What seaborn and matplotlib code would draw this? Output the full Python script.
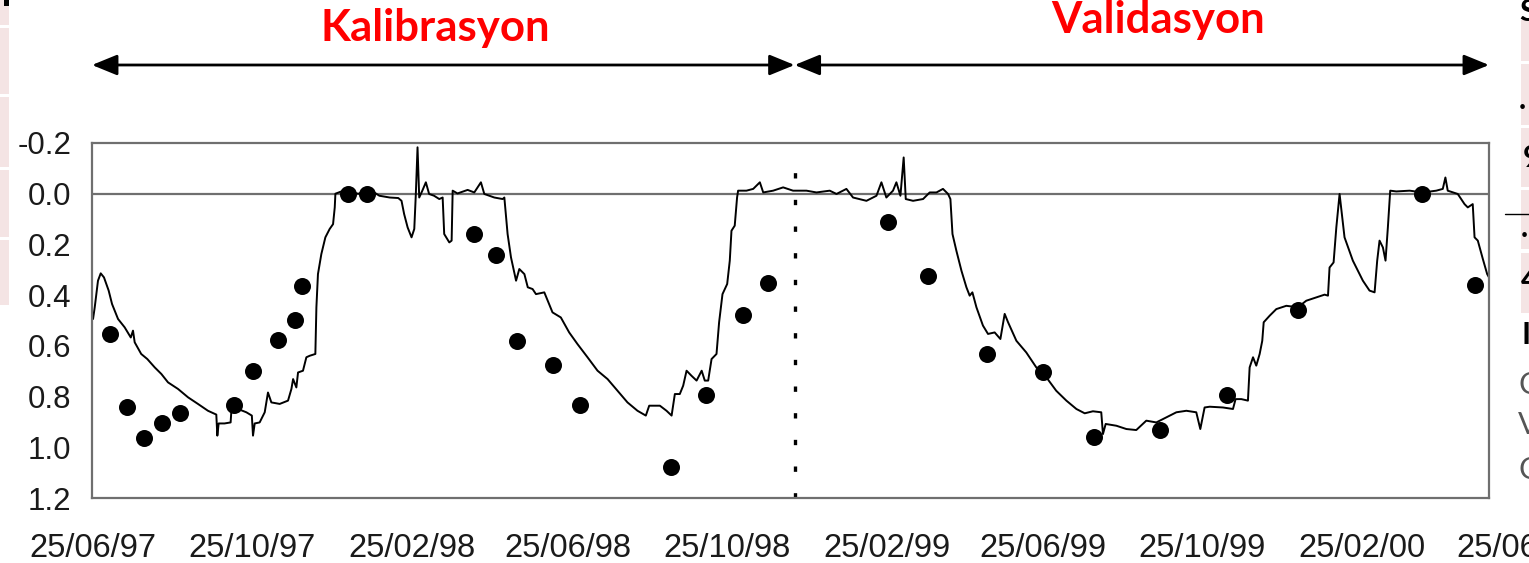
import numpy as np
import pandas as pd
import matplotlib
matplotlib.use("Agg")
import matplotlib.pyplot as plt
import matplotlib.dates as mdates
import matplotlib.transforms as mtransforms
from matplotlib.patches import Rectangle
from matplotlib.lines import Line2D
import seaborn as sns

# ---------------- data ----------------
start_date = "1997-06-25"
# simulated water-table depth (m), days after start_date
sim_day = [0, 1.3, 3.8, 5.9, 8.4, 12, 14.6, 19.2, 24.3, 29, 30.7, 32, 37, 41.7, 47.4, 52.5,
           57.6, 65.3, 73, 80.6, 88.3, 94.7, 95.5, 96.5, 101, 105.7, 106.2, 111.4, 117.8, 122,
           122.9, 124.2, 128, 131.9, 134.4, 137, 143.4, 149.8, 152.4, 153.7, 156.2, 157.5, 161.3,
           163.9, 166.5, 170.8, 171.6, 172.8, 175.4, 178.5, 181.8, 184.4, 185.7, 186.2, 190.8,
           196, 204, 211, 216, 220, 228, 234.5, 237, 239, 241.7, 244.7, 246.8, 248, 249.3, 250.6,
           253, 255.7, 258.2, 262, 266, 268.6, 269.8, 273.7, 275.5, 276.3, 280, 287.8, 292.9,
           298, 300.6, 308.3, 314.7, 316, 318.5, 321.1, 325, 327.5, 331.4, 334, 337.7, 340.3,
           346.7, 353, 359.4, 365.8, 372.2, 379.9, 387.6, 395.3, 403, 410.6, 418.3, 424.7,
           427.3, 435.5, 440.6, 444.5, 447, 450.8, 453.4, 456, 459.8, 463.7, 467.6, 470, 472.6,
           475.2, 479, 481, 483.6, 487.2, 489.2, 490.5, 493, 494.8, 495.6, 502, 507.2, 512.3,
           514.9, 522.5, 530.2, 537.8, 548.1, 555.8, 566, 571.2, 578.8, 583.9, 594.2, 601.9,
           605.7, 609.5, 614.6, 617.2, 620.3, 622.8, 624.4, 630, 637.7, 642.8, 648, 653, 656.9,
           658.7, 660.3, 663.3, 667.2, 671, 673.5, 675.6, 678.7, 683.7, 687.6, 692.7, 697.1,
           700.4, 703, 709.4, 717, 724.7, 732.4, 740, 747.8, 755.5, 761.9, 768.2, 774.6, 775.9,
           778, 786.2, 793.9, 801.5, 809.2, 816.9, 824.6, 832.3, 840, 847.6, 850.7, 854, 857.9,
           868.1, 875.8, 877.8, 882.2, 887.3, 888.6, 891.2, 893.7, 896.3, 898.3, 899.4, 904,
           909.1, 916.8, 925.7, 932.1, 939.8, 946.2, 948.8, 950, 953.1, 955.2, 957.7, 961.5,
           967.9, 975.6, 980.7, 984.6, 986.6, 988.4, 991, 993, 994.8, 996.6, 1001.3, 1011.5,
           1021.7, 1032, 1037, 1039, 1040.8, 1048.5, 1053.7, 1056.2, 1060, 1061.4, 1063.9,
           1067.8, 1071.1, 1072.5]
sim_depth = [0.494, 0.448, 0.343, 0.314, 0.33, 0.382, 0.435, 0.494, 0.527, 0.567, 0.54, 0.586,
             0.632, 0.652, 0.685, 0.711, 0.744, 0.77, 0.803, 0.829, 0.856, 0.871, 0.954, 0.906,
             0.906, 0.902, 0.862, 0.849, 0.862, 0.875, 0.954, 0.906, 0.902, 0.862, 0.784, 0.823,
             0.829, 0.816, 0.77, 0.731, 0.764, 0.705, 0.698, 0.645, 0.639, 0.632, 0.448, 0.317,
             0.238, 0.172, 0.139, 0.12, 0.054, 0.0, -0.009, -0.005, 0.0, -0.012, -0.005, 0.008,
             0.015, 0.017, 0.028, 0.08, 0.133, 0.172, 0.139, 0.001, -0.183, 0.015, -0.012, -0.045,
             0.001, 0.008, 0.021, 0.015, 0.159, 0.192, 0.185, -0.012, -0.001, -0.015, -0.005,
             -0.045, 0.001, 0.015, 0.021, 0.015, 0.159, 0.251, 0.343, 0.297, 0.317, 0.369, 0.376,
             0.396, 0.389, 0.468, 0.488, 0.547, 0.593, 0.645, 0.698, 0.731, 0.777, 0.823, 0.856,
             0.875, 0.836, 0.836, 0.856, 0.875, 0.79, 0.79, 0.757, 0.698, 0.718, 0.737, 0.698,
             0.737, 0.737, 0.652, 0.632, 0.507, 0.396, 0.356, 0.264, 0.146, 0.126, 0.015, -0.012,
             -0.012, -0.019, -0.045, -0.005, -0.012, -0.025, -0.012, -0.012, -0.005, -0.012,
             0.001, -0.019, 0.015, 0.028, 0.008, -0.045, 0.015, -0.012, -0.045, 0.008, -0.143,
             0.021, 0.028, 0.021, -0.005, -0.005, -0.019, 0.001, 0.021, 0.159, 0.225, 0.304,
             0.369, 0.402, 0.389, 0.448, 0.52, 0.553, 0.547, 0.573, 0.474, 0.507, 0.58, 0.626,
             0.685, 0.724, 0.777, 0.816, 0.849, 0.866, 0.858, 0.862, 0.948, 0.908, 0.915, 0.928,
             0.932, 0.895, 0.902, 0.882, 0.862, 0.856, 0.862, 0.928, 0.843, 0.84, 0.843, 0.849,
             0.81, 0.81, 0.816, 0.685, 0.645, 0.678, 0.632, 0.58, 0.507, 0.481, 0.455, 0.442,
             0.448, 0.422, 0.409, 0.398, 0.402, 0.291, 0.271, 0.133, 0.001, 0.172, 0.264, 0.343,
             0.382, 0.389, 0.264, 0.185, 0.212, 0.264, 0.133, -0.012, -0.009, -0.012, -0.005,
             -0.012, -0.019, -0.064, -0.012, 0.001, 0.041, 0.054, 0.041, 0.172, 0.185, 0.258,
             0.317, 0.33]

# observed water-table depth (m)
obs_day = [13.1, 25.9, 39.2, 53.2, 67.0, 108.3, 122.6, 141.9, 154.9, 160.3, 196.1, 210.7,
           292.6, 309.3, 325.9, 353.1, 374.2, 443.9, 470.8, 499.2, 518.6, 610.8, 641.8, 687.1,
           729.8, 768.8, 819.5, 871.5, 926.0, 1021.2, 1062.1]
obs_depth = [0.552, 0.843, 0.963, 0.904, 0.865, 0.833, 0.698, 0.576, 0.497, 0.365, 0.0, 0.0,
             0.159, 0.24, 0.582, 0.674, 0.833, 1.076, 0.792, 0.48, 0.352, 0.11, 0.326, 0.632,
             0.705, 0.958, 0.932, 0.793, 0.459, 0.0, 0.359]

# calibration / validation split and axis extent (days after start_date)
split_day = 539
axis_start_day = -0.8
axis_end_day = 1072.5

x_tick_labels = ["25/06/97", "25/10/97", "25/02/98", "25/06/98", "25/10/98",
                 "25/02/99", "25/06/99", "25/10/99", "25/02/00", "25/06/00"]
y_ticks = [-0.2, 0.0, 0.2, 0.4, 0.6, 0.8, 1.0, 1.2]
period_labels = ["Kalibrasyon", "Validasyon"]

# ---------------- build frames ----------------
t0 = pd.Timestamp(start_date)
to_date = lambda d: t0 + pd.to_timedelta(np.asarray(d, dtype=float), unit="D")
sim = pd.DataFrame({"date": to_date(sim_day), "depth": sim_depth})
obs = pd.DataFrame({"date": to_date(obs_day), "depth": obs_depth})
tick_dates = [pd.to_datetime(s, format="%d/%m/%y") for s in x_tick_labels]
split_date = to_date([split_day])[0]
x_lo = to_date([axis_start_day])[0]
x_hi = to_date([axis_end_day])[0]

# ---------------- style ----------------
sns.set_style("white")
plt.rcParams["font.family"] = ["Liberation Sans", "DejaVu Sans"]
plt.rcParams["axes.unicode_minus"] = False

W, H = 1529, 563
fig = plt.figure(figsize=(W / 100, H / 100), dpi=100)
fig.patch.set_facecolor("white")
ax = fig.add_axes([92 / W, 1 - 498 / H, (1489 - 92) / W, (498 - 143) / H])

spine_col = "#6f6f6f"
ax.axhline(0, color=spine_col, lw=1.6, zorder=1)

sns.lineplot(data=sim, x="date", y="depth", color="black", lw=1.4, ax=ax,
             estimator=None, zorder=2)
sns.scatterplot(data=obs, x="date", y="depth", color="black", s=150, edgecolor="black",
                linewidth=0, ax=ax, zorder=3)

# dotted split line
vl, = ax.plot([split_date, split_date], [1.2, -0.14], color="black", lw=2.4, zorder=2)
vl.set_dashes((1.6, 6.4))

ax.set_yticks(y_ticks)
ax.set_yticklabels([f"{v:.1f}" for v in y_ticks])
ax.set_xticks(tick_dates)
ax.xaxis.set_major_formatter(mdates.DateFormatter("%d/%m/%y"))
ax.set_xlim(x_lo, x_hi)
ax.set_ylim(1.2, -0.2)
ax.set_xlabel("")
ax.set_ylabel("")

fs_y = 22.5
fs_x = 23.5
xpad = 25
ax.tick_params(axis="y", direction="out", length=7, width=1.4, color=spine_col,
               labelsize=fs_y, pad=8, labelcolor="#1a1a1a")
ax.tick_params(axis="x", length=0, labelsize=fs_x, pad=xpad, labelcolor="#1a1a1a")
for s in ax.spines.values():
    s.set_visible(True)
    s.set_color(spine_col)
    s.set_linewidth(1.6)

# last tick label lies beyond the axis end (clipped by figure edge as in original)
trans = mtransforms.blended_transform_factory(ax.transData, ax.transAxes) + \
    mtransforms.ScaledTranslation(0, -xpad / 72, fig.dpi_scale_trans)
ax.text(mdates.date2num(tick_dates[-1]), 0, x_tick_labels[-1], transform=trans,
        ha="center", va="top", fontsize=fs_x, color="#1a1a1a", clip_on=False)

# ---------------- period arrows and labels ----------------
arr_y = 1 - 65 / H
btrans = mtransforms.blended_transform_factory(ax.transData, fig.transFigure)
for a, b in [(x_lo, split_date), (split_date, x_hi)]:
    ax.annotate("", xy=(mdates.date2num(b), arr_y), xycoords=btrans,
                xytext=(mdates.date2num(a), arr_y), textcoords=btrans,
                arrowprops=dict(arrowstyle="<|-|>,head_length=1.1,head_width=0.45",
                                color="black", lw=2, shrinkA=0, shrinkB=0,
                                mutation_scale=14),
                annotation_clip=False)

fig.text(435 / W, 1 - 41 / H, period_labels[0], color="red", fontsize=31.5,
         fontweight="bold", family="Lato", ha="center", va="baseline")
fig.text(1158 / W, 1 - 33 / H, period_labels[1], color="red", fontsize=31.5,
         fontweight="bold", family="Lato", ha="center", va="baseline")

# ---------------- slide remnants at the edges ----------------
pink = "#f4e4e4"
for y0, y1 in [(0, 25), (28, 94), (97, 167), (170, 237), (240, 305)]:
    fig.add_artist(Rectangle((0, 1 - y1 / H), 9 / W, (y1 - y0) / H,
                             transform=fig.transFigure, color=pink, lw=0, zorder=0))
for y0, y1 in [(20, 61), (64, 125), (128, 187), (190, 249), (253, 313)]:
    fig.add_artist(Rectangle((1521 / W, 1 - y1 / H), 8 / W, (y1 - y0) / H,
                             transform=fig.transFigure, color=pink, lw=0, zorder=0))
fig.add_artist(Rectangle((4 / W, 1 - 6 / H), 5 / W, 6 / H, transform=fig.transFigure,
                         color="black", lw=0))
fig.add_artist(Line2D([1505 / W, 1.0], [1 - 214 / H, 1 - 214 / H],
                      transform=fig.transFigure, color="black", lw=1))
for ch, x, y, col, wt in [("S", 1519, 12, "black", "bold"), (".", 1519, 100, "black", "bold"),
                          ("9", 1523, 158, "black", "bold"), (".", 1521, 228, "black", "bold"),
                          ("4", 1521, 280, "black", "bold"), ("I", 1522, 335, "black", "bold"),
                          ("C", 1518, 385, "#555555", "normal"),
                          ("V", 1518, 425, "#555555", "normal"),
                          ("C", 1518, 470, "#555555", "normal")]:
    fig.text(x / W, 1 - y / H, ch, color=col, fontsize=22, fontweight=wt,
             ha="left", va="center", family="Lato")

fig.savefig("out.png", dpi=100)
